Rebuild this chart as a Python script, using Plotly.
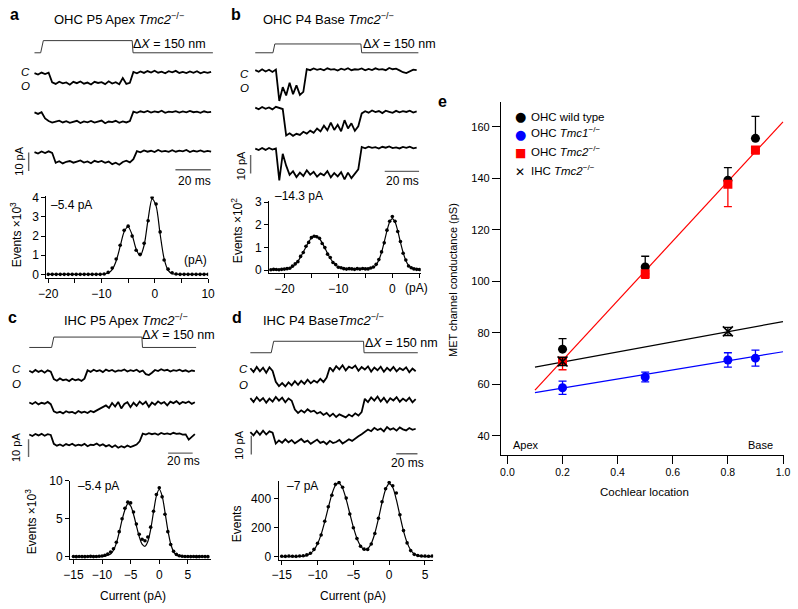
import numpy as np
import plotly.graph_objects as go

W, H = 798, 609
FONT = "Liberation Sans, Arial, Helvetica, sans-serif"

# ======================= DATA =======================
# Mechanical stimulus (time in ms, displacement in nm)
stim_disp = [0, 0, 150, 150, 0, 0]
stim_t_a = [0, 3.5, 5.0, 55.3, 55.8, 101]
stim_t_b = [0, 10.3, 11.4, 61.5, 62.0, 95]
stim_t_c = [0, 18.2, 20.0, 91.8, 92.3, 136]
stim_t_d = [0, 19.7, 22.0, 106.8, 107.3, 158]

# Single-channel current records (pA, relative to the closed level)
t_a = np.arange(0, 101, 2)
cur_a1 = [0.3, -0.5, 0.6, -0.2, 0.5,
          -4.6, -5.5, -4.3, -5.2, -4.7, -5.9, -4.4, -5.1, -4.2, -5.4, -4.8, -5.8, -4.4, -5.0, -4.6,
          -5.6, -4.1, -5.3, -4.6, -5.7, -2.4, -5.5, -4.9,
          0.9, 0.2, 1.2, 0.4, 1.4, 0.6, 1.6, 0.5, 1.1, 0.2, 1.3, 0.7, 1.5, 0.4, 0.9, 0.3, 1.2, 0.5,
          1.3, 0.2, 0.9, 0.4, 1.0]
cur_a2 = [0.4, -0.4, 0.5, -2.8,
          -4.2, -5.1, -4.5, -4.0, -5.0, -4.3, -5.2, -4.6, -4.1, -5.3, -4.4, -4.9, -4.2, -5.1, -4.7,
          -4.0, -5.4, -4.5, -4.8, -4.1, -5.2, -4.4, -5.0, -4.3,
          0.8, 0.2, 1.0, 0.4, 1.2, 0.3, 0.9, 0.5, 1.3, 0.2, 0.8, 0.6, 1.1, 0.3, 0.9, 0.4, 1.2, 0.5,
          0.8, 0.2, 1.0, 0.4, 0.7]
cur_a3 = [0.2, -0.6, 0.5, -0.3, 0.6, -0.2,
          -5.6, -4.7, -5.9, -5.0, -4.6, -5.5, -4.9, -4.3, -5.4, -4.8, -5.8, -4.5, -5.2, -4.6, -5.6,
          -4.9, -6.3, -5.5, -6.6, -5.1, -4.4, -5.3, -3.6,
          0.7, 0.1, 1.1, 0.4, 0.9, 0.2, 1.3, 0.5, 0.8, 0.3, 1.2, 0.4, 1.0, 0.6, 1.3, 0.2, 0.9, 0.5,
          1.1, 0.3, 0.8, 0.4]

t_b = np.arange(0, 95, 2)
cur_b1 = [0.3, -0.6, 0.8, -0.4, 0.5, -0.7, 0.6,
          -16.5, -9.0, -13.5, -6.5, -12.8, -8.0, -13.2, -11.5,
          0.9, 0.3, 1.2, 0.5, 1.0, 0.2, 1.3, 0.6, 0.9, 0.1, 1.1, 0.5, 1.4, 0.3, 0.8, 0.6, 1.2, 0.2,
          1.0, 0.4, 1.3, 0.6, 0.9, 0.3, 1.5, 0.8, 1.1, 0.2, -0.8, -1.3, -0.4, 0.6, 0.3]
cur_b2 = [0.4, -0.5, 0.7, -0.3, 0.5, -0.6, 0.8, 0.1, -0.4,
          -14.8, -13.6, -15.0, -13.9, -14.5, -12.8, -13.8, -12.2, -13.4, -11.0, -12.6, -9.5,
          -12.0, -7.8, -11.8, -9.0, -12.5, -6.5, -11.0, -8.2, -12.3, -9.8,
          -2.8, -1.6, -2.4, -1.2, -2.1, -1.5, -2.6, -1.3, -1.9, -2.5, -1.4, -2.2, -1.6, -2.0, -1.3,
          -2.3, -1.7]
cur_b3 = [0.3, -0.5, 0.6, -0.4, 0.7, -0.2, 0.4,
          -17.0, -2.5, -9.0,
          -14.0, -12.0, -15.2, -12.8, -14.6, -11.5, -13.9, -12.4, -15.0, -13.2, -14.3, -12.0,
          -15.4, -13.0, -14.8, -12.5, -16.5, -12.8, -15.8, -13.5, -11.0,
          1.2, 0.5, 1.4, 0.7, 1.1, 0.3, 1.3, 0.8, 1.5, 0.6, 1.0, 0.4, 1.2, 0.7, 1.4, 0.5, 0.9]

t_c = np.arange(0, 136, 2.5)
cur_c1 = [0.4, -0.6, 0.8, -0.3, 0.5, -0.7, 0.6, -0.2,
          -4.4, -5.3, -4.0, -5.0, -4.6, -5.5, -4.2, -5.1, -4.5, -5.4, -4.1,
          0.6, -0.3, 0.9, 0.1, 0.7, -0.4, 1.0, 0.2, 0.8, -0.2, 0.6, 0.3, 1.1, -0.1, 0.7, 0.2, 0.9,
          -0.3, 0.5, -1.6, -2.1, -0.8, 0.8, 0.2, 1.2, 0.4, 0.9, -0.1, 0.7, 0.3, 1.0, 0.1, 0.6,
          -0.2, 0.5, 0.2]
cur_c2 = [0.5, -0.4, 0.7, -0.6, 0.3, -0.2, 0.8, -0.5,
          -4.6, -5.4, -4.8, -5.7, -4.5, -5.2, -4.9, -5.8, -4.4, -5.3, -4.7, -5.5, -4.3, -5.0,
          -4.0, -3.2, -2.0, -1.2,
          -2.6, 0.2, -1.8, 0.8, -2.9, -0.4, 0.6, -2.2, 0.3, -1.5, 1.0, -0.6, 0.9, -2.0, 0.4,
          -0.8, 1.1, -0.2, 0.7, -1.2, 0.9, 0.1, 1.2, -0.4, 0.8, 0.2, 1.0, -0.3, 0.6]
cur_c3 = [0.3, -0.5, 0.6, -0.2, 0.7, -0.4, 0.5, 0.1,
          -5.0, -6.0, -5.3, -6.2, -5.1, -5.8, -4.9, -6.1, -5.4, -5.9, -5.0, -6.3, -5.5, -5.7,
          -4.8, -6.0, -5.2, -6.4, -5.6, -6.9, -5.8, -7.2, -6.3, -7.0, -5.9, -6.8, -6.1, -5.4, -3.5,
          0.8, 0.3, 1.1, 0.5, 0.9, 0.2, 1.2, 0.6, 1.0, 0.4, 1.3, 0.7, 0.9, 0.3, 0.4, -2.6, -1.0, 0.5]

t_d = np.arange(0, 157, 3)
cur_d1 = [0.8, -1.2, 1.5, -0.9, 1.1, -1.6, 1.3, -0.7,
          -6.5, -8.8, -7.2, -9.0, -6.8, -8.4, -6.2, -8.1, -6.0, -7.6, -5.4, -7.3, -5.8, -6.9,
          -4.9, -6.6, -4.2,
          1.2, -0.8, 1.9, 0.2, 2.4, -0.4, 1.6, 0.8, 2.2, -0.6, 1.4, 0.1, 1.8, -1.0, 1.2, -0.3,
          1.6, -1.1, 1.0, -0.5, 1.5, -0.9, 0.8, -0.2, 1.3, -1.4, 0.6, -0.8]
cur_d2 = [0.9, -1.1, 1.4, -0.6, 1.0, -1.5, 0.7, -0.9, 1.6, -0.4, 1.2, -1.3, 0.8, -0.5,
          -5.2, -7.0, -5.6, -6.8, -5.0, -6.4, -5.8, -7.3, -6.5, -8.1, -7.0, -8.8, -7.4, -9.2,
          -7.8, -8.6, -9.4, -7.9, -8.9, -7.2, -8.4, -6.6,
          0.6, -1.2, 1.3, -0.4, 1.8, -0.9, 1.1, -1.4, 0.9, -0.3, 1.5, -1.0, 0.7, -0.6, 1.2, -1.3, 0.4]
cur_d3 = [0.7, -1.0, 1.3, -0.8, 1.5, -0.6, 1.1, 0.4,
          -5.5, -3.8, -5.0, -3.2, -4.8, -3.6, -5.3, -4.1, -3.0, -4.7, -3.9, -5.6, -4.2, -3.3,
          -5.1, -4.4, -5.8, -4.0, -5.2, -4.6, -3.5, -5.4, -4.3, -3.1, -4.0, -2.5, -1.5,
          -0.4, 0.9, 2.1, 1.2, 3.0, 1.8, 2.6, 1.1, 3.4, 2.0, 2.8, 1.5, 3.2, 2.2, 1.6, 2.9, 1.9, 2.5]

SCALE_MS = 20   # time scale bar (ms)
SCALE_PA = 10   # current scale bar (pA)

# All-points amplitude histograms: bin centres (pA), counts (dots), two-Gaussian fit
hx_a = np.arange(-20, 10.01, 0.75)
hcount_a = [0] * 13 + [0.0, 0.02, 0.10, 0.33, 0.80, 1.52, 2.30, 2.52, 2.00, 1.26, 1.05, 1.62,
                       2.80, 4.02, 3.68, 2.22, 0.75, 0.27, 0.08, 0.02] + [0] * 8
hfit_a = [0] * 13 + [0.002, 0.012, 0.065, 0.25, 0.70, 1.46, 2.23, 2.49, 2.06, 1.32, 0.96, 1.52,
                     2.89, 3.95, 3.57, 2.11, 0.82, 0.21, 0.034, 0.004] + [0] * 8

hx_b = np.arange(-22.5, 5.01, 0.5)
hcount_b = [0.01, 0.03, 0.02, 0.01, 0.03, 0.04, 0.06, 0.08, 0.17, 0.27,
            0.37, 0.60, 0.77, 1.05, 1.22, 1.43, 1.49, 1.47, 1.40, 1.17,
            0.99, 0.70, 0.55, 0.33, 0.24, 0.12, 0.10, 0.06, 0.04, 0.06,
            0.05, 0.03, 0.06, 0.04, 0.07, 0.05, 0.05, 0.09, 0.13, 0.25,
            0.46, 0.80, 1.20, 1.76, 2.15, 2.36, 2.15, 1.70, 1.26, 0.74,
            0.44, 0.18, 0.10, 0.05, 0.03, 0.02]
hfit_b = [0.02, 0.02, 0.02, 0.02, 0.025, 0.03, 0.05, 0.09, 0.15, 0.25,
          0.39, 0.57, 0.79, 1.02, 1.24, 1.41, 1.50, 1.49, 1.38, 1.20,
          0.97, 0.73, 0.52, 0.35, 0.22, 0.14, 0.09, 0.07, 0.055, 0.05,
          0.05, 0.05, 0.05, 0.05, 0.05, 0.05, 0.06, 0.08, 0.12, 0.23,
          0.44, 0.78, 1.24, 1.73, 2.12, 2.27, 2.12, 1.73, 1.23, 0.77,
          0.42, 0.20, 0.09, 0.04, 0.03, 0.02]

hx_c = np.arange(-15, 8.51, 0.5)
hcount_c = [0.02, 0.0, 0.03, 0.01, 0.0, 0.02, 0.04, 0.01, 0.03, 0.05,
            0.08, 0.18, 0.35, 0.62, 1.05, 1.9, 3.3, 5.0, 6.4, 7.2, 7.1, 5.9, 4.3, 2.95, 2.3,
            2.1, 2.6, 3.9, 6.0, 8.2, 9.1, 7.9, 5.6, 3.3, 1.6, 0.7, 0.3, 0.12, 0.05,
            0.03, 0.02, 0.01, 0.02, 0.0, 0.01, 0.02, 0.01, 0.0]
hfit_c = [0] * 10 + [0.02, 0.07, 0.18, 0.35, 0.85, 1.75, 3.2, 4.85, 6.2, 6.98, 6.70, 5.60,
                     4.10, 2.65, 1.66, 1.37, 2.00, 3.60, 5.91, 8.03, 8.90, 8.03, 5.89, 3.51,
                     1.70, 0.67, 0.22, 0.06, 0.01] + [0] * 9

hx_d = np.arange(-15, 6.01, 0.5)
hcount_d = [3, 2, 4, 3, 2, 5, 6, 12, 24, 50,
            92, 150, 245, 345, 425, 500, 512, 480, 405, 295,
            200, 125, 72, 52, 50, 88, 160, 265, 380, 470,
            512, 490, 440, 290, 180, 95, 42, 16, 8, 5,
            4, 3, 4]
hfit_d = [0, 0, 0.03, 0.1, 0.4, 1.2, 3.4, 9, 21.5, 46,
          89, 154, 241, 339, 431, 493, 509, 473, 396, 299,
          204, 126, 75, 50, 55, 91, 162, 262, 373, 465,
          505, 478, 394, 284, 178, 97, 46, 19, 7, 2,
          0.5, 0.1, 0]

# Panel e: MET channel conductance (pS) vs cochlear location
loc = [0.2, 0.5, 0.8, 0.9]
g_wt = [73.6, 105.5, 139.2, 155.5]
g_wt_err = [4.1, 4.2, 4.9, 8.5]
g_tmc1 = [58.6, 62.8, 69.4, 70.1]
g_tmc1_err = [2.6, 1.9, 2.8, 3.1]
g_tmc2 = [69.0, 102.9, 137.7, 151.0]
g_tmc2_err = [3.4, 1.8, 8.7, 1.5]
loc_ihc = [0.2, 0.8]
g_ihc = [68.8, 80.5]
g_ihc_err = [1.6, 1.6]
fit_x = [0.1, 1.0]
fit_tmc2 = [57.7, 161.9]
fit_ihc = [66.6, 84.3]
fit_tmc1 = [56.7, 72.6]
no_err = [0, 0, 0, 0]

# ======================= FIGURE =======================
fig = go.Figure()
layout = {}
anns = []


def xdom(p0, p1):
    return [p0 / W, p1 / W]


def ydom(top, bot):
    return [1 - bot / H, 1 - top / H]


def names(n):
    if n == 1:
        return 'xaxis', 'yaxis', 'x', 'y'
    return f'xaxis{n}', f'yaxis{n}', f'x{n}', f'y{n}'


HIDDEN = dict(visible=False, showgrid=False, zeroline=False, fixedrange=True)


def ann(text, x, y, size=12, xanchor='center', angle=0, color='black', family=FONT):
    anns.append(dict(text=text, x=x / W, y=1 - y / H, xref='paper', yref='paper',
                     xanchor=xanchor, yanchor='middle', showarrow=False, textangle=angle,
                     font=dict(size=size, family=family, color=color)))


def trace_panel(n_stim, n_cur, geo, stim_t, records, t, offsets, bars):
    px0, px1, t0px, sx, py0, py1, y0px, sy, st_top, st_bot = geo
    xr = [(px0 - t0px) / sx, (px1 - t0px) / sx]
    xa, ya, xn, yn = names(n_stim)
    s = (st_bot - st_top) / 150.0
    layout[xa] = dict(HIDDEN, domain=xdom(px0, px1), range=xr, anchor=yn)
    layout[ya] = dict(HIDDEN, domain=ydom(st_top - 4, st_bot + 4),
                      range=[-4 / s, 150 + 4 / s], anchor=xn)
    fig.add_trace(go.Scatter(x=stim_t, y=stim_disp, mode='lines',
                             line=dict(color='#3a3a3a', width=1), xaxis=xn, yaxis=yn))
    xa, ya, xn, yn = names(n_cur)
    layout[xa] = dict(HIDDEN, domain=xdom(px0, px1), range=xr, anchor=yn)
    layout[ya] = dict(HIDDEN, domain=ydom(py0, py1),
                      range=[-(py1 - y0px) / sy, (y0px - py0) / sy], anchor=xn)
    for rec, off in zip(records, offsets):
        assert len(rec) == len(t), (len(rec), len(t))
        fig.add_trace(go.Scatter(x=t, y=np.array(rec) + off, mode='lines',
                                 line=dict(color='black', width=1.8), xaxis=xn, yaxis=yn))
    tb, yb, tv, yv = bars
    fig.add_trace(go.Scatter(x=[tb, tb + SCALE_MS], y=[yb, yb], mode='lines',
                             line=dict(color='#666666', width=1.4), xaxis=xn, yaxis=yn))
    fig.add_trace(go.Scatter(x=[tv, tv], y=[yv, yv + SCALE_PA], mode='lines',
                             line=dict(color='#666666', width=1.4), xaxis=xn, yaxis=yn))


AX = dict(showline=True, linecolor='black', linewidth=1, ticks='outside', ticklen=4,
          tickwidth=1, tickcolor='black', showgrid=False, zeroline=False, fixedrange=True,
          ticklabeloverflow='allow', tickfont=dict(size=12, family=FONT, color='black'))


def hist_panel(n, px0, px1, py0, py1, xr, yr, xd, yd, xminor, hx, counts, fit):
    assert len(hx) == len(counts) == len(fit), (len(hx), len(counts), len(fit))
    xa, ya, xn, yn = names(n)
    layout[xa] = dict(AX, domain=xdom(px0, px1), range=xr, dtick=xd, tick0=0, anchor=yn)
    if xminor:
        layout[xa]['minor'] = dict(dtick=xminor, tick0=0, ticklen=4, tickwidth=1,
                                   tickcolor='black', ticks='outside', showgrid=False)
    layout[ya] = dict(AX, domain=ydom(py0, py1), range=yr, dtick=yd, tick0=0, anchor=xn)
    fig.add_trace(go.Scatter(x=hx, y=fit, mode='lines',
                             line=dict(color='black', width=1.2, shape='spline', smoothing=0.8),
                             xaxis=xn, yaxis=yn))
    fig.add_trace(go.Scatter(x=hx, y=counts, mode='markers',
                             marker=dict(color='black', size=3.6), xaxis=xn, yaxis=yn))


# ---- panel a ----
trace_panel(2, 3, (15, 212, 27, 1.8, 55, 172, 68, 1.9, 34.3, 46.7), stim_t_a,
            [cur_a1, cur_a2, cur_a3], t_a, [0, -21.2, -42.3], (79.8, -51.6, -3.3, -52.3))
hist_panel(4, 39, 204, 193.3, 276.7, [-20.37, 10.02], [-0.205, 4.072], 10, 1, 5,
           hx_a, hcount_a, hfit_a)
# ---- panel b ----
trace_panel(5, 6, (240, 422, 252, 1.75, 55, 185, 65, 1.87, 37.7, 46.7), stim_t_b,
            [cur_b1, cur_b2, cur_b3], t_b, [0, -20.5, -42.8], (75.4, -54.9, -2.7, -56.0))
hist_panel(7, 266, 420.7, 197.7, 271.7, [-22.85, 5.27], [-0.147, 3.056], 10, 1, 5,
           hx_b, hcount_b, hfit_b)
# ---- panel c ----
trace_panel(8, 9, (12, 195, 21.7, 1.25, 358, 470, 371.7, 1.8, 336.7, 347.3), stim_t_c,
            [cur_c1, cur_c2, cur_c3], t_c, [0, -18.1, -36.1], (113.2, -46.3, -0.6, -48.5))
hist_panel(10, 63.3, 206.7, 483.3, 563.3, [-15.58, 9.01], [-0.336, 10.02], 5, 5, None,
           hx_c, hcount_c, hfit_c)
# ---- panel d ----
trace_panel(11, 12, (240, 422, 247, 1.08, 358, 470, 370, 1.9, 341, 352.7), stim_t_d,
            [cur_d1, cur_d2, cur_d3], t_d, [0, -16.2, -34.2], (137.7, -45.1, 0.9, -45.5))
hist_panel(13, 275.7, 433.3, 483.3, 564, [-15.45, 6.14], [-22.4, 524.7], 5, 200, None,
           hx_d, hcount_d, hfit_d)

# ---- panel e ----
layout['xaxis'] = dict(AX, domain=xdom(502.3, 790.7), range=[-0.0238, 1.003], dtick=0.2,
                       tick0=0, tickformat='.1f', ticklen=8, anchor='y',
                       tickfont=dict(size=10.5, family=FONT, color='black'))
layout['yaxis'] = dict(AX, domain=ydom(96.7, 456.7), range=[32.6, 169.7], dtick=20, tick0=0,
                       ticklen=8, anchor='x', tickfont=dict(size=11, family=FONT, color='black'))

fig.add_trace(go.Scatter(x=fit_x, y=fit_tmc2, mode='lines', line=dict(color='#ff0000', width=1.2)))
fig.add_trace(go.Scatter(x=fit_x, y=fit_ihc, mode='lines', line=dict(color='black', width=1.2)))
fig.add_trace(go.Scatter(x=fit_x, y=fit_tmc1, mode='lines', line=dict(color='#0000ff', width=1.2)))
fig.add_trace(go.Scatter(x=loc, y=g_wt, mode='markers',
                         marker=dict(color='black', size=9, symbol='circle'),
                         error_y=dict(type='data', symmetric=False, array=g_wt_err,
                                      arrayminus=no_err, color='black', thickness=1.3, width=4)))
fig.add_trace(go.Scatter(x=loc, y=g_tmc1, mode='markers',
                         marker=dict(color='#0000ff', size=9, symbol='circle'),
                         error_y=dict(type='data', array=g_tmc1_err, color='#0000ff',
                                      thickness=1.3, width=4)))
fig.add_trace(go.Scatter(x=loc, y=g_tmc2, mode='markers',
                         marker=dict(color='#ff0000', size=9, symbol='square'),
                         error_y=dict(type='data', symmetric=False, array=no_err,
                                      arrayminus=g_tmc2_err, color='#ff0000', thickness=1.3,
                                      width=4)))
fig.add_trace(go.Scatter(x=loc_ihc, y=g_ihc, mode='markers',
                         marker=dict(color='black', size=10, symbol='x-thin',
                                     line=dict(color='black', width=1.6)),
                         error_y=dict(type='data', array=g_ihc_err, color='black',
                                      thickness=1.3, width=4)))

# ---- text ----
TM2 = '<i>Tmc2</i><sup>−/−</sup>'
for lab, x, y in [('a', 7, 8), ('b', 232, 8), ('c', 5, 317), ('d', 233, 317), ('e', 443, 96)]:
    ann(f'<b>{lab}</b>', x, y, size=16)

ann('OHC P5 Apex ' + TM2, 113, 12, size=13)
ann('OHC P4 Base ' + TM2, 327, 12, size=13)
ann('IHC P5 Apex ' + TM2, 120, 319, size=13)
ann('IHC P4 Base' + TM2, 322, 319, size=13)

for x, y in [(165, 38), (399, 38), (174, 335), (401, 343)]:
    ann('Δ<i>X</i> = 150 nm', x, y, size=12.5)

for x, yc, yo in [(18, 66, 81), (241, 68, 83), (9, 369, 385), (240, 369, 386)]:
    ann('<i>C</i>', x, yc, size=11.5)
    ann('<i>O</i>', x, yo, size=11.5)

for x, y in [(11, 157), (237, 162), (8, 449), (236, 447)]:
    ann('10 pA', x, y, size=11, angle=-90)
for x, y in [(190, 177), (402, 177), (179, 463), (407, 465)]:
    ann('20 ms', x, y)

ann('–5.4 pA', 65, 202)
ann('(pA)', 191, 258)
ann('Events ×10<sup>3</sup>', 9, 232, angle=-90)
ann('–14.3 pA', 297, 193)
ann('(pA)', 416, 287)
ann('Events ×10<sup>2</sup>', 233, 228, angle=-90)
ann('–5.4 pA', 92, 489)
ann('Current (pA)', 127, 601)
ann('Events ×10<sup>3</sup>', 23, 525, angle=-90)
ann('–7 pA', 300, 489)
ann('Current (pA)', 352, 601)
ann('Events', 233, 527, angle=-90)

ann('MET channel conductance (pS)', 453, 278, size=11, angle=-90)
ann('Cochlear location', 649, 495, size=11.5)
ann('Apex', 528, 447, size=11)
ann('Base', 767, 447, size=11)

SYM = "DejaVu Sans, sans-serif"
legend_rows = [('●', 'black', 13, 'OHC wild type', 112, 112),
               ('●', '#0000ff', 13, 'OHC <i>Tmc1</i><sup>−/−</sup>', 130, 128),
               ('■', '#ff0000', 12, 'OHC ' + TM2, 148.5, 146.5),
               ('✕', 'black', 12, 'IHC ' + TM2, 168, 166)]
for sym, col, sz, txt, ys, yt in legend_rows:
    ann(sym, 522, ys, size=sz, color=col, family=SYM)
    ann(txt, 530.5, yt, size=11.5, xanchor='left')

fig.update_layout(width=W, height=H, margin=dict(l=0, r=0, t=0, b=0),
                  paper_bgcolor='white', plot_bgcolor='white', showlegend=False,
                  font=dict(family=FONT, size=12, color='black'),
                  annotations=anns, **layout)
fig.update_traces(hoverinfo='skip')
fig.write_html("out.html", config={'displayModeBar': False},
               post_script="document.body.style.margin='0px';"
                           "document.body.style.overflow='hidden';")
